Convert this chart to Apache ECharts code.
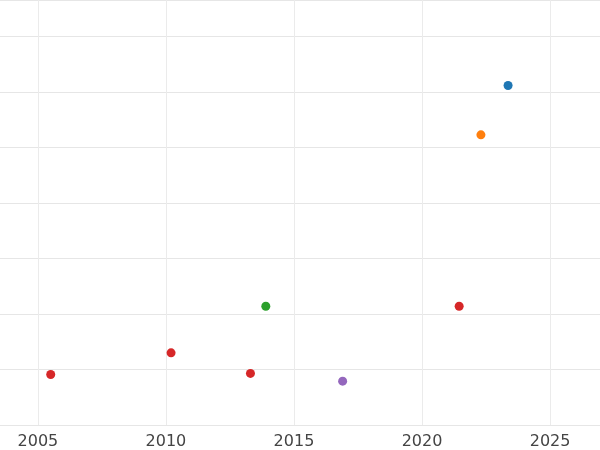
<!DOCTYPE html>
<html>
<head>
<meta charset="utf-8">
<script src="https://cdn.jsdelivr.net/npm/echarts@6/dist/echarts.min.js"></script>
<style>html,body{margin:0;padding:0;background:#fff}#main{width:600px;height:450px}</style>
</head>
<body>
<div id="main"></div>
<script>
// point data: [year, value]
let years = [2023.36, 2022.3, 2013.9, 2021.45, 2010.2, 2005.5, 2013.3, 2016.9];
let values = [6.12, 5.23, 2.14, 2.14, 1.30, 0.91, 0.93, 0.79];
let colors = ['#1f77b4', '#ff7f0e', '#2ca02c', '#d62728', '#d62728', '#d62728', '#d62728', '#9467bd'];
let tickYears = [2005, 2010, 2015, 2020, 2025];

let myChart = echarts.init(document.getElementById('main'));

let option = {
	grid: {left: 0, right: 0, top: 0, bottom: 21},
	xAxis: {
		type: 'value',
		min: 2003.52,
		max: 2026.95,
		axisLine: {show: false},
		axisTick: {show: false, customValues: tickYears},
		axisLabel: {customValues: tickYears, formatter: v => String(v), color: '#444', fontSize: 16, fontFamily: 'DejaVu Sans', margin: 9},
		splitLine: {lineStyle: {color: '#ebebeb'}}
	},
	yAxis: {
		type: 'value',
		min: 0,
		max: 7.66,
		interval: 1,
		axisLine: {show: false},
		axisTick: {show: false},
		axisLabel: {show: false},
		splitLine: {lineStyle: {color: '#e6e6e6'}}
	},
	series: [{
		type: 'scatter',
		symbolSize: 9,
		data: years.map((x, i) => ({value: [x, values[i]], itemStyle: {color: colors[i], opacity: 1}}))
	}]
};

myChart.setOption(option);
</script>
</body>
</html>
